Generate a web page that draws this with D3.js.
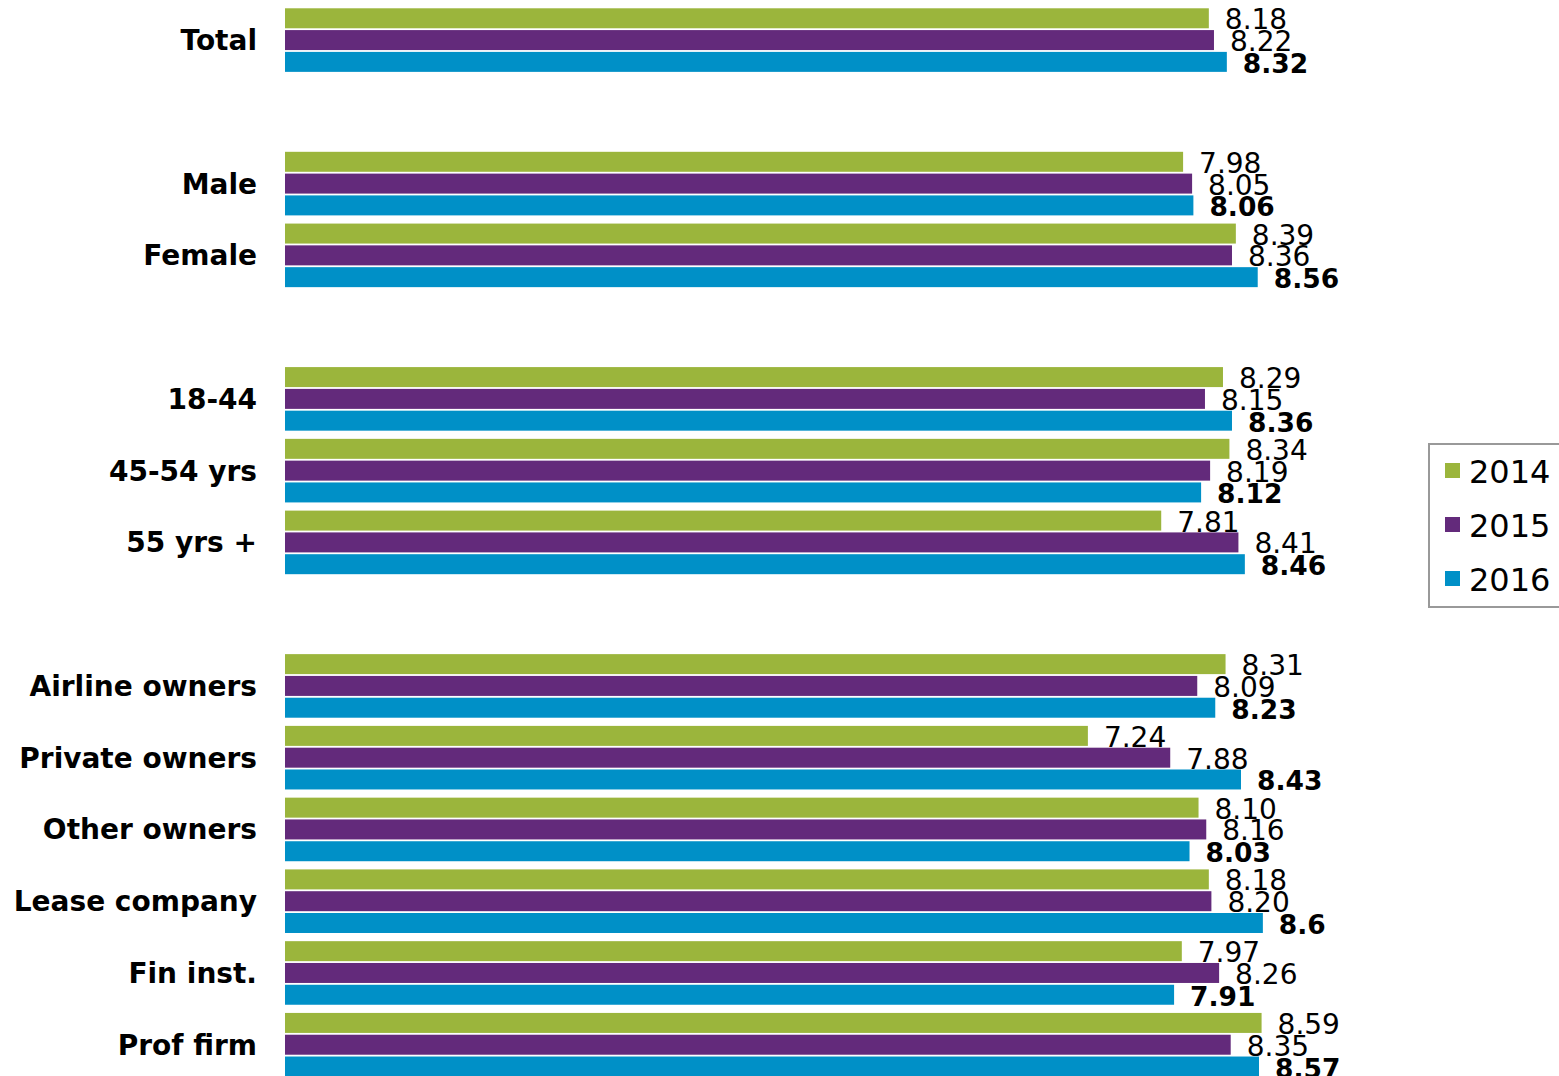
<!DOCTYPE html>
<html>
<head>
<meta charset="utf-8">
<script src="https://cdn.jsdelivr.net/npm/d3@7/dist/d3.min.js"></script>
<style>
  html, body { margin: 0; padding: 0; background: #fff; }
  svg { display: block; }
</style>
</head>
<body>
<svg id="chart" width="1559" height="1076"></svg>
<script>
// Categories grouped into blocks; an empty slot separates the blocks.
const groups = [
  ["Total"],
  ["Male", "Female"],
  ["18-44", "45-54 yrs", "55 yrs +"],
  ["Airline owners", "Private owners", "Other owners", "Lease company", "Fin inst.", "Prof firm"]
];
const categories = ["Total", "Male", "Female", "18-44", "45-54 yrs", "55 yrs +",
  "Airline owners", "Private owners", "Other owners", "Lease company", "Fin inst.", "Prof firm"];
const years = ["2014", "2015", "2016"];
const values2014 = [8.18, 7.98, 8.39, 8.29, 8.34, 7.81, 8.31, 7.24, 8.10, 8.18, 7.97, 8.59];
const values2015 = [8.22, 8.05, 8.36, 8.15, 8.19, 8.41, 8.09, 7.88, 8.16, 8.20, 8.26, 8.35];
const values2016 = [8.32, 8.06, 8.56, 8.36, 8.12, 8.46, 8.23, 8.43, 8.03, 8.6, 7.91, 8.57];
const colors = ["#9BB53C", "#632A7B", "#0090C7"];
const axisMin = 1, axisMax = 10;

const series = [values2014, values2015, values2016];
const svg = d3.select("#chart");
const font = "'DejaVu Sans', Verdana, sans-serif";

// Slot list: categories with a spacer slot between groups
const slots = [];
groups.forEach((g, i) => {
  if (i > 0) slots.push("__gap" + i);
  g.forEach(c => slots.push(c));
});

const y = d3.scaleBand().domain(slots).range([4.2, 1080.6])
  .paddingInner(0.114).paddingOuter(0.057);
const ySub = d3.scaleBand().domain(years).range([0, y.bandwidth()]).paddingInner(0.083);
const x = d3.scaleLinear().domain([axisMin, axisMax]).range([285, 1443]);

const rows = categories.map((c, i) => ({
  cat: c,
  vals: series.map((s, k) => ({ year: years[k], k, v: s[i] }))
}));

const rowG = svg.append("g").selectAll("g").data(rows).join("g")
  .attr("transform", d => `translate(0,${y(d.cat)})`);

// Category labels
rowG.append("text")
  .attr("x", 257)
  .attr("y", y.bandwidth() / 2 + 10)
  .attr("text-anchor", "end")
  .attr("font-family", font)
  .attr("font-weight", "bold")
  .attr("font-size", 28)
  .attr("fill", "#000")
  .text(d => d.cat);

// Bars
rowG.selectAll("rect").data(d => d.vals).join("rect")
  .attr("x", x(axisMin))
  .attr("y", d => ySub(d.year))
  .attr("width", d => x(d.v) - x(axisMin))
  .attr("height", ySub.bandwidth())
  .attr("fill", d => colors[d.k]);

// Value labels (latest year in bold)
rowG.selectAll("text.val").data(d => d.vals).join("text")
  .attr("class", "val")
  .attr("x", d => x(d.v) + 16)
  .attr("y", d => ySub(d.year) + ySub.bandwidth() / 2 + 11)
  .attr("font-family", font)
  .attr("font-weight", d => d.k === 2 ? "bold" : "normal")
  .attr("font-size", d => d.k === 2 ? 26.5 : 28)
  .attr("fill", "#000")
  .text(d => d.k === 2 ? String(d.v) : d.v.toFixed(2));

// Legend
const legend = svg.append("g");
legend.append("rect")
  .attr("x", 1429).attr("y", 444)
  .attr("width", 140).attr("height", 163)
  .attr("fill", "#fff").attr("stroke", "#999").attr("stroke-width", 2);
const li = legend.selectAll("g.item").data(years).join("g")
  .attr("class", "item")
  .attr("transform", (d, i) => `translate(0,${483 + i * 54})`);
li.append("rect")
  .attr("x", 1445).attr("y", -20)
  .attr("width", 15).attr("height", 15)
  .attr("fill", (d, i) => colors[i]);
li.append("text")
  .attr("x", 1469).attr("y", 0)
  .attr("font-family", font)
  .attr("font-size", 32)
  .attr("fill", "#000")
  .text(d => d);
</script>
</body>
</html>
